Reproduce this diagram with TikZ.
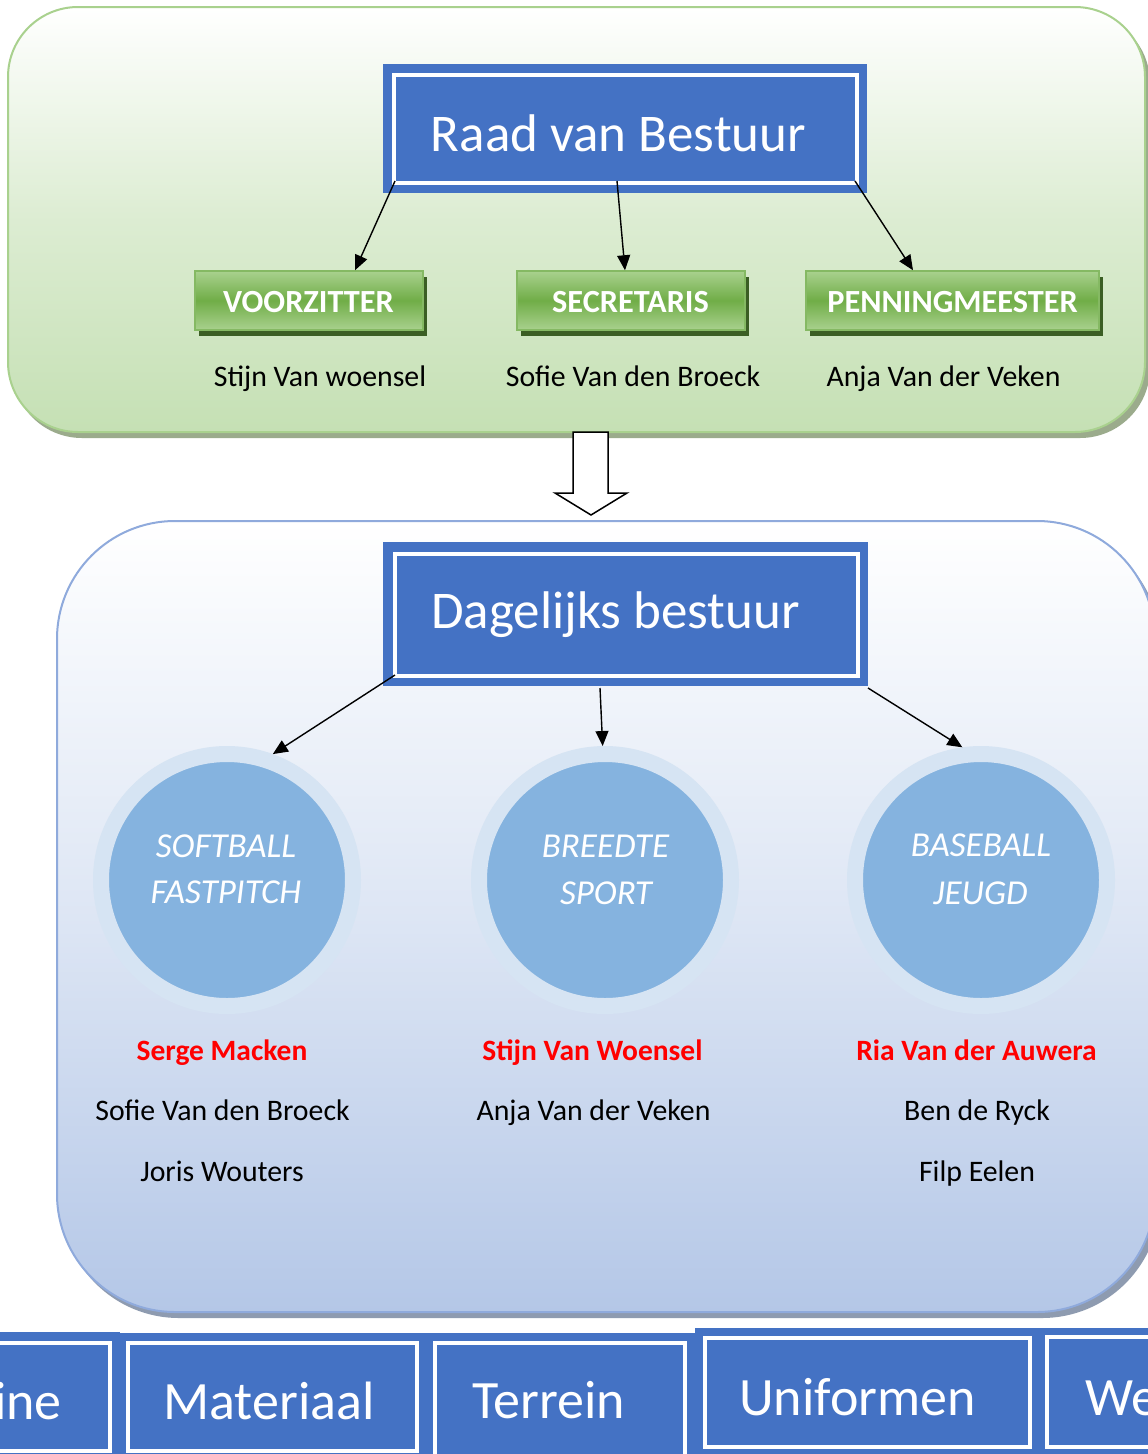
\documentclass[tikz,border=0pt]{standalone}
\usepackage{fontspec}
\setmainfont{Carlito}
\usetikzlibrary{arrows.meta,shadows}
\definecolor{bl}{HTML}{4472C4}
\definecolor{grnborder}{HTML}{A9D18E}
\definecolor{grnbot}{HTML}{C5E0B4}
\definecolor{grnshadow}{HTML}{9BAB8C}
\definecolor{lablight}{HTML}{A9D18E}
\definecolor{labdark}{HTML}{70AD47}
\definecolor{labsh}{HTML}{3B5E24}
\definecolor{bluebord}{HTML}{8FAADC}
\definecolor{bluebot}{HTML}{B4C7E7}
\definecolor{blueshadow}{HTML}{8E9BB0}
\definecolor{ringcol}{HTML}{D6E4F3}
\definecolor{circcol}{HTML}{85B3DF}
\definecolor{redname}{HTML}{FF0000}
\tikzset{
  bigbox/.style={rectangle, fill=bl, inner sep=0pt, outer sep=0pt},
  wline/.style={draw=white, line width=3.5pt},
  bigtext/.style={anchor=base, text=white, inner sep=0pt, font=\fontsize{53}{60}\selectfont},
  rowtext/.style={anchor=base, text=white, inner sep=0pt, font=\fontsize{54}{60}\selectfont},
  labbox/.style={rectangle, minimum height=59pt, inner sep=0pt,
    top color=lablight, bottom color=lablight, middle color=labdark,
    draw=labdark!85!white, line width=1.5pt,
    drop shadow={shadow xshift=4pt, shadow yshift=-6pt, fill=labsh, opacity=1}},
  labtext/.style={anchor=base, text=white, inner sep=0pt, font=\bfseries\fontsize{32.3}{36}\selectfont},
  nametext/.style={anchor=base, text=black, inner sep=0pt, font=\fontsize{29.8}{34}\selectfont},
  redtext/.style={anchor=base, text=redname, inner sep=0pt, font=\bfseries\fontsize{29.5}{34}\selectfont},
  circnode/.style={circle, fill=circcol, draw=ringcol, line width=16pt, minimum size=252pt, inner sep=0pt},
  circtext/.style={anchor=base, text=white, inner sep=0pt, font=\itshape\fontsize{35}{40}\selectfont},
  arr/.style={draw=black, line width=1.4pt, -{Triangle[length=15pt,width=13pt]}}
}
\begin{document}
\begin{tikzpicture}[x=1pt,y=-1pt]
\useasboundingbox (0,0) rectangle (1148,1454);
\fill[white] (0,0) rectangle (1148,1454);
\clip (0,0) rectangle (1148,1454);

% green panel
\fill[grnshadow, rounded corners=70pt] (12,13) rectangle (1150,438);
\shade[top color=white, bottom color=grnbot, middle color=grnbot!60!white,
  draw=grnborder, line width=2pt, rounded corners=70pt] (8,7) rectangle (1145,432);

% blue panel
\fill[blueshadow, rounded corners=118pt] (61,527) rectangle (1160,1318);
\shade[top color=white, bottom color=bluebot, middle color=bluebot!45!white,
  draw=bluebord, line width=2pt, rounded corners=118pt] (57,521) rectangle (1155,1312);

% block arrow between panels
\draw[black, fill=white, line width=1.5pt, line join=miter]
  (573,432) -- (573,493) -- (555,493) -- (591,515) -- (627,493) -- (608,493) -- (608,432) -- cycle;

% Raad van Bestuur
\node[bigbox, minimum width=484pt, minimum height=129pt] (raad) at (625,128.5) {};
\draw[wline] ([shift={(11,11)}]raad.north west) rectangle ([shift={(-10,-10)}]raad.south east);
\node[bigtext] (raadtxt) at (618.5,151) {Raad van Bestuur};

% green labels
\node[labbox, minimum width=228pt] (voor) at (309,300.5) {};
\node[labbox, minimum width=228pt] (secr) at (631,300.5) {};
\node[labbox, minimum width=293pt] (penn) at (952.5,300.5) {};
\node[labtext] (voortxt) at (308.5,312) {VOORZITTER};
\node[labtext] (secrtxt) at (630.5,312) {SECRETARIS};
\node[labtext] (penntxt) at (952.5,312) {PENNINGMEESTER};

\node[nametext] (n1) at (320,386) {Stijn Van woensel};
\node[nametext] (n2) at (633,386) {Sofie Van den Broeck};
\node[nametext] (n3) at (943.5,386) {Anja Van der Veken};

\draw[arr] ([shift={(12,-12)}]raad.south west) -- ([shift={(46,0)}]voor.north);
\draw[arr] ([shift={(-8,-12)}]raad.south) -- ([shift={(-6,0)}]secr.north);
\draw[arr] ([shift={(-12,-12)}]raad.south east) -- ([shift={(-39.5,0)}]penn.north);

% Dagelijks bestuur
\node[bigbox, minimum width=485pt, minimum height=144pt] (dag) at (625.5,614) {};
\draw[wline] ([shift={(12,12)}]dag.north west) rectangle ([shift={(-10,-10)}]dag.south east);
\node[bigtext] (dagtxt) at (615.5,628) {Dagelijks bestuur};

% circles
\node[circnode] (soft) at (227,880) {};
\node[circnode] (breed) at (605,880) {};
\node[circnode] (base) at (981,880) {};
\node[circtext] (soft1) at (226,857) {SOFTBALL};
\node[circtext] (soft2) at (226,903) {FASTPITCH};
\node[circtext] (breed1) at (605.5,857) {BREEDTE};
\node[circtext] (breed2) at (606,904) {SPORT};
\node[circtext] (base1) at (981,856) {BASEBALL};
\node[circtext] (base2) at (980.5,904) {JEUGD};

\draw[arr] ([shift={(12,-11)}]dag.south west) -- (soft.70);
\draw[arr] ([shift={(-25.5,2)}]dag.south) -- (breed.91);
\draw[arr] ([shift={(0,2)}]dag.south east) -- (base.98);

% names under circles
\node[redtext] (r1) at (222,1060) {Serge Macken};
\node[redtext] (r2) at (592.5,1060) {Stijn Van Woensel};
\node[redtext] (r3) at (976.5,1060) {Ria Van der Auwera};
\node[nametext] (s1) at (222.5,1120) {Sofie Van den Broeck};
\node[nametext] (s2) at (593.5,1120) {Anja Van der Veken};
\node[nametext] (s3) at (977,1120) {Ben de Ryck};
\node[nametext] (t1) at (222,1181) {Joris Wouters};
\node[nametext] (t3) at (977,1181) {Filp Eelen};

% bottom row
\node[bigbox, minimum width=140pt, minimum height=138pt] (b1) at (50,1401) {};
\node[bigbox, minimum width=305pt, minimum height=137pt] (b2) at (272.5,1401.5) {};
\node[bigbox, minimum width=270pt, minimum height=137pt] (b3) at (560,1401.5) {};
\node[bigbox, minimum width=345pt, minimum height=142pt] (b4) at (867.5,1399) {};
\node[bigbox, minimum width=130pt, minimum height=142pt] (b5) at (1105,1399) {};
\draw[wline] ([shift={(-20,11)}]b1.north west) rectangle ([shift={(-10,-19)}]b1.south east);
\draw[wline] ([shift={(8,10)}]b2.north west) rectangle ([shift={(-8,-19)}]b2.south east);
\draw[wline] ([shift={(10,10)}]b3.north west) rectangle ([shift={(-10,-5)}]b3.south east);
\draw[wline] ([shift={(10,10)}]b4.north west) rectangle ([shift={(-10,-23)}]b4.south east);
\draw[wline] ([shift={(7,9)}]b5.north west) rectangle ([shift={(20,-23)}]b5.south east);
\node[rowtext, anchor=base east] (b1t) at (62,1419) {ine};
\node[rowtext] (b2t) at (269,1419) {Materiaal};
\node[rowtext] (b3t) at (548.5,1418) {Terrein};
\node[rowtext] (b4t) at (857.5,1415) {Uniformen};
\node[rowtext, anchor=base west] (b5t) at (1085,1415) {We};
\end{tikzpicture}
\end{document}
